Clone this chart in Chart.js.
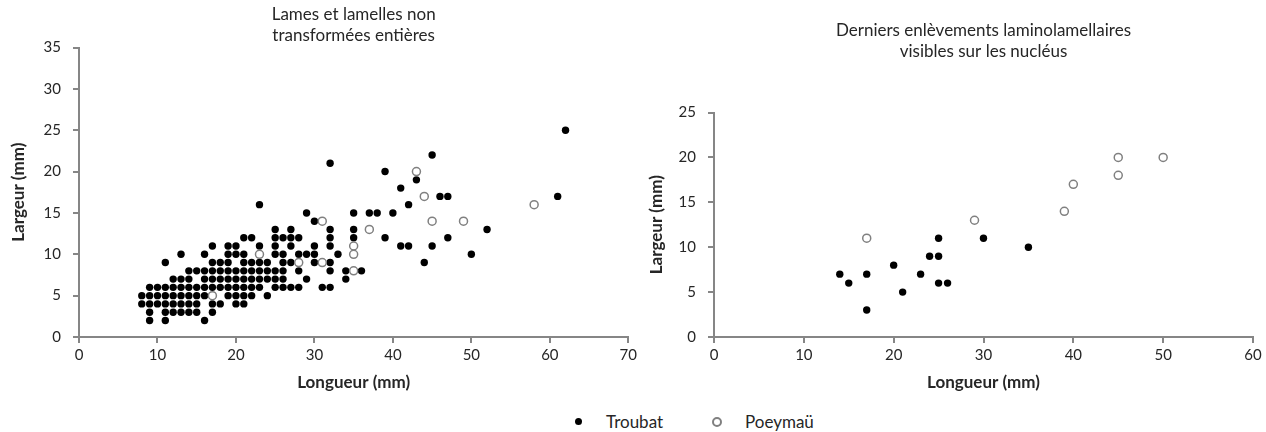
<!DOCTYPE html>
<html>
<head>
<meta charset="utf-8">
<script src="https://cdn.jsdelivr.net/npm/chart.js@4.4.1/dist/chart.umd.min.js"></script>
<style>
  body { margin: 0; background: #fff; width: 1266px; height: 432px; position: relative; overflow: hidden; font-family: Lato, sans-serif; }
  #boxLeft { position: absolute; left: 0; top: 0; width: 640px; height: 400px; }
  #boxRight { position: absolute; left: 640px; top: 0; width: 626px; height: 400px; }
  .leg { position: absolute; top: 412px; font-size: 17px; color: #262626; line-height: 20px; }
  .leg span.dot { position: absolute; left: -31px; top: 6px; width: 7px; height: 7px; border-radius: 50%; background: #000; }
  .leg span.ring { position: absolute; left: -33px; top: 5px; width: 6px; height: 6px; border-radius: 50%; border: 2.5px solid #808080; background: #fff; }
</style>
</head>
<body>
<div id="boxLeft"><canvas id="chartLeft"></canvas></div>
<div id="boxRight"><canvas id="chartRight"></canvas></div>
<div class="leg" style="left:606px"><span class="dot"></span>Troubat</div>
<div class="leg" style="left:745px"><span class="ring"></span>Poeymaü</div>
<script>
//DATA
//left chart: whole blades and bladelets, one line per width value (mm)
const leftTroubatX = [
    9, 11, 16,
    9, 11, 12, 13, 14, 15, 17,
    8, 9, 10, 11, 12, 13, 14, 15, 17, 18, 20, 21,
    8, 9, 10, 11, 12, 13, 14, 15, 16, 19, 20, 21, 22, 24,
    9, 10, 11, 12, 13, 14, 15, 16, 17, 18, 19, 20, 21, 22, 23, 25, 26, 27, 28, 31, 32,
    12, 13, 14, 16, 17, 18, 19, 20, 21, 22, 23, 24, 25, 26, 29, 34,
    14, 15, 16, 17, 18, 19, 20, 21, 22, 23, 24, 25, 26, 28, 32, 34, 36,
    11, 17, 18, 19, 21, 22, 23, 24, 26, 27, 30, 32, 44,
    13, 16, 19, 20, 21, 25, 26, 28, 29, 30, 33, 50,
    17, 19, 20, 23, 25, 27, 30, 32, 41, 42, 45,
    21, 22, 25, 26, 27, 28, 32, 35, 39, 47,
    25, 27, 32, 35, 52,
    30,
    29, 35, 37, 38, 40,
    23, 42,
    46, 47, 61,
    41, 43, 39, 32, 45, 62
];
const leftTroubatY = [
    2, 2, 2,
    3, 3, 3, 3, 3, 3, 3,
    4, 4, 4, 4, 4, 4, 4, 4, 4, 4, 4, 4,
    5, 5, 5, 5, 5, 5, 5, 5, 5, 5, 5, 5, 5, 5,
    6, 6, 6, 6, 6, 6, 6, 6, 6, 6, 6, 6, 6, 6, 6, 6, 6, 6, 6, 6, 6,
    7, 7, 7, 7, 7, 7, 7, 7, 7, 7, 7, 7, 7, 7, 7, 7,
    8, 8, 8, 8, 8, 8, 8, 8, 8, 8, 8, 8, 8, 8, 8, 8, 8,
    9, 9, 9, 9, 9, 9, 9, 9, 9, 9, 9, 9, 9,
    10, 10, 10, 10, 10, 10, 10, 10, 10, 10, 10, 10,
    11, 11, 11, 11, 11, 11, 11, 11, 11, 11, 11,
    12, 12, 12, 12, 12, 12, 12, 12, 12, 12,
    13, 13, 13, 13, 13,
    14,
    15, 15, 15, 15, 15,
    16, 16,
    17, 17, 17,
    18, 19, 20, 21, 22, 25
];
const leftPoeyX = [17, 23, 28, 31, 31, 35, 35, 35, 37, 43, 44, 45, 49, 58];
const leftPoeyY = [5, 10, 9, 9, 14, 11, 10, 8, 13, 20, 17, 14, 14, 16];

//right chart: last removals on cores
const rightTroubatX = [14, 15, 17, 17, 20, 21, 23, 24, 25, 25, 25, 26, 30, 35];
const rightTroubatY = [7, 6, 7, 3, 8, 5, 7, 9, 9, 11, 6, 6, 11, 10];
const rightPoeyX = [17, 29, 39, 40, 45, 45, 50];
const rightPoeyY = [11, 13, 14, 17, 18, 20, 20];

const seriesNames = ['Troubat', 'Poeymaü'];
const leftTitle = ['Lames et lamelles non', 'transformées entières'];
const rightTitle = ['Derniers enlèvements laminolamellaires', 'visibles sur les nucléus'];
const xTitle = 'Longueur (mm)';
const yTitle = 'Largeur (mm)';

//helpers
const toPoints = (xs, ys) => xs.map((x, i) => ({x: x, y: ys[i]}));
const axisGrey = '#868686';
const textGrey = '#262626';
const FONT = 'Lato';

function makeAxis(max, step, title, opts) {
    return {
        type: 'linear',
        min: 0,
        max: max,
        border: {display: true, color: axisGrey, width: 2},
        grid: {drawOnChartArea: false, drawTicks: true, tickLength: 6, color: axisGrey, lineWidth: 2},
        ticks: {stepSize: step, color: textGrey, font: {family: FONT, size: 15}, padding: opts.tickPad},
        title: {
            display: true,
            text: title,
            color: textGrey,
            font: {family: FONT, size: 17, weight: 'bold'},
            padding: opts.titlePad
        },
        afterFit: opts.fit
    };
}

function makeConfig(trX, trY, poX, poY, title, xMax, yMax, lay) {
    return {
        type: 'scatter',
        data: {
            datasets: [{
                label: seriesNames[1],
                data: toPoints(poX, poY),
                pointRadius: 4,
                pointHoverRadius: 4,
                borderWidth: 1.5,
                borderColor: '#808080',
                backgroundColor: '#ffffff'
            }, {
                label: seriesNames[0],
                data: toPoints(trX, trY),
                pointRadius: 3.7,
                pointHoverRadius: 3.7,
                borderWidth: 0,
                backgroundColor: '#000000'
            }]
        },
        options: {
            responsive: true,
            maintainAspectRatio: false,
            animation: false,
            layout: {padding: {top: 0, left: 0, right: lay.right, bottom: 0}},
            plugins: {
                legend: {display: false},
                tooltip: {enabled: false},
                title: {
                    display: true,
                    fullSize: false,
                    text: title,
                    color: textGrey,
                    font: {family: FONT, size: 17, weight: 'normal', lineHeight: 1.25},
                    padding: lay.titlePad
                }
            },
            scales: {
                x: makeAxis(xMax, 10, xTitle, {
                    tickPad: 3,
                    titlePad: {top: 0, bottom: 7},
                    fit: s => { s.height = 63; }
                }),
                y: makeAxis(yMax, 5, yTitle, {
                    tickPad: 12,
                    titlePad: {top: lay.yTitleTop, bottom: 0},
                    fit: s => { s.width = lay.yWidth; }
                })
            }
        }
    };
}

//render
const chartLeft = new Chart(
    document.getElementById('chartLeft').getContext('2d'),
    makeConfig(leftTroubatX, leftTroubatY, leftPoeyX, leftPoeyY, leftTitle, 70, 35,
        {right: 11, yWidth: 79, yTitleTop: 8, titlePad: {top: 4, bottom: 1}})
);
const chartRight = new Chart(
    document.getElementById('chartRight').getContext('2d'),
    makeConfig(rightTroubatX, rightTroubatY, rightPoeyX, rightPoeyY, rightTitle, 60, 25,
        {right: 13, yWidth: 74, yTitleTop: 6, titlePad: {top: 20, bottom: 50}})
);
</script>
</body>
</html>
